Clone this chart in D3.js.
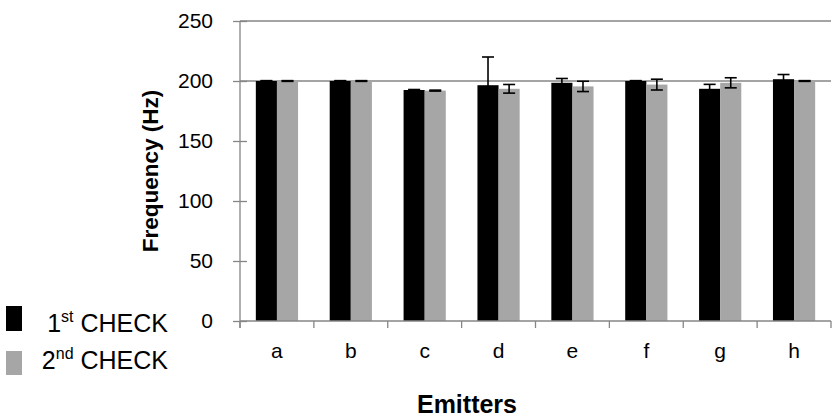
<!DOCTYPE html>
<html>
<head>
<meta charset="utf-8">
<script src="https://cdnjs.cloudflare.com/ajax/libs/d3/7.8.5/d3.min.js"></script>
<style>
  body { margin: 0; background: #fff; }
  text { font-family: "Liberation Sans", Arial, sans-serif; fill: #000; }
</style>
</head>
<body>
<div id="vis-container"></div>
<script>
// chart size
const width = 837;
const height = 419;
const margin = {left: 240, right: 6, top: 21, bottom: 98};

// data
const emitters = ["a", "b", "c", "d", "e", "f", "g", "h"];
const check1 = [200, 200, 192.5, 196.5, 198.5, 200, 193.5, 201.5];
const check2 = [200, 200, 192, 193.5, 195.5, 197, 198.5, 200];
const err1 = [0.3, 0.3, 0.4, 23.5, 3.6, 0.3, 3.7, 3.9];
const err2 = [0.3, 0.3, 0.4, 3.6, 4.3, 4.5, 4.2, 0.3];
const yTicks = [0, 50, 100, 150, 200, 250];
const gridLines = [200, 250];
const seriesKeys = ["first", "second"];
const colors = {first: "#000000", second: "#a6a6a6"};

const rows = emitters.map((e, i) => ({
  emitter: e,
  vals: [
    {key: "first", v: check1[i], err: err1[i]},
    {key: "second", v: check2[i], err: err2[i]}
  ]
}));

const svg = d3.select("#vis-container")
  .append("svg")
  .attr("width", width)
  .attr("height", height);

const axisColor = "#868686";

let x0 = d3.scaleBand()
  .domain(emitters)
  .range([margin.left, width - margin.right])
  .padding(0);

let x1 = d3.scaleBand()
  .domain(seriesKeys)
  .range([0, x0.bandwidth()])
  .paddingInner(0)
  .paddingOuter(0.75);

let y = d3.scaleLinear()
  .domain([0, 250])
  .range([height - margin.bottom, margin.top]);

// horizontal lines at 200 and 250
svg.append("g")
  .selectAll("line")
  .data(gridLines)
  .join("line")
  .attr("x1", margin.left)
  .attr("x2", width - margin.right)
  .attr("y1", d => y(d))
  .attr("y2", d => y(d))
  .attr("stroke", axisColor)
  .attr("stroke-width", 1.3);

// bars
const groups = svg.append("g")
  .selectAll("g")
  .data(rows)
  .join("g")
  .attr("transform", d => `translate(${x0(d.emitter)},0)`);

groups.selectAll("rect")
  .data(d => d.vals)
  .join("rect")
  .attr("x", d => x1(d.key))
  .attr("y", d => y(d.v))
  .attr("width", x1.bandwidth())
  .attr("height", d => y(0) - y(d.v))
  .attr("fill", d => colors[d.key]);

// error bars
const capW = 12;
const eb = groups.selectAll("g.err")
  .data(d => d.vals)
  .join("g")
  .attr("class", "err")
  .attr("stroke", "#000")
  .attr("stroke-width", 1.6);

eb.append("line")
  .attr("x1", d => x1(d.key) + x1.bandwidth() / 2)
  .attr("x2", d => x1(d.key) + x1.bandwidth() / 2)
  .attr("y1", d => y(d.v + d.err))
  .attr("y2", d => y(d.v - d.err));
eb.append("line")
  .attr("x1", d => x1(d.key) + x1.bandwidth() / 2 - capW / 2)
  .attr("x2", d => x1(d.key) + x1.bandwidth() / 2 + capW / 2)
  .attr("y1", d => y(d.v + d.err))
  .attr("y2", d => y(d.v + d.err));
eb.append("line")
  .attr("x1", d => x1(d.key) + x1.bandwidth() / 2 - capW / 2)
  .attr("x2", d => x1(d.key) + x1.bandwidth() / 2 + capW / 2)
  .attr("y1", d => y(d.v - d.err))
  .attr("y2", d => y(d.v - d.err));

// y axis with cross ticks
const yAxis = svg.append("g")
  .attr("transform", `translate(${margin.left},0)`)
  .call(d3.axisLeft(y).tickValues(yTicks).tickSize(0).tickPadding(27));
yAxis.select(".domain").remove();
yAxis.append("line")
  .attr("x1", 0).attr("x2", 0)
  .attr("y1", y(250)).attr("y2", y(0) + 7)
  .attr("stroke", axisColor).attr("stroke-width", 1.3);
yAxis.selectAll(".tick").append("line")
  .attr("x1", -7).attr("x2", 7)
  .attr("stroke", axisColor).attr("stroke-width", 1.3);
yAxis.selectAll("text")
  .attr("font-size", "21px")
  .attr("font-family", "Liberation Sans, Arial, sans-serif")
  .attr("fill", "#000");

// x axis with boundary ticks
const xAxis = svg.append("g")
  .attr("transform", `translate(0,${y(0)})`)
  .call(d3.axisBottom(x0).tickSize(0).tickPadding(22));
xAxis.select(".domain").remove();
xAxis.append("line")
  .attr("x1", margin.left).attr("x2", width - margin.right)
  .attr("stroke", axisColor).attr("stroke-width", 1.3);
xAxis.append("g")
  .selectAll("line")
  .data(emitters.concat(["end"]))
  .join("line")
  .attr("x1", (d, i) => margin.left + i * x0.step())
  .attr("x2", (d, i) => margin.left + i * x0.step())
  .attr("y1", 0).attr("y2", 7)
  .attr("stroke", axisColor).attr("stroke-width", 1.3);
xAxis.selectAll("text")
  .attr("font-size", "21px")
  .attr("font-family", "Liberation Sans, Arial, sans-serif")
  .attr("fill", "#000");

// axis titles
svg.append("text")
  .attr("x", 467)
  .attr("y", 413)
  .attr("text-anchor", "middle")
  .attr("font-size", "25px")
  .attr("font-weight", "bold")
  .text("Emitters");

svg.append("text")
  .attr("transform", "translate(158,171) rotate(-90)")
  .attr("text-anchor", "middle")
  .attr("font-size", "22.5px")
  .attr("font-weight", "bold")
  .text("Frequency (Hz)");

// legend
const legendData = [
  {key: "first", num: "1", sup: "st", y: 306, h: 25, tx: 168, base: 332},
  {key: "second", num: "2", sup: "nd", y: 351, h: 24, tx: 168, base: 369}
];
const legend = svg.append("g");
legend.selectAll("rect")
  .data(legendData)
  .join("rect")
  .attr("x", 6)
  .attr("y", d => d.y)
  .attr("width", 16)
  .attr("height", d => d.h)
  .attr("fill", d => colors[d.key]);

const lt = legend.selectAll("text")
  .data(legendData)
  .join("text")
  .attr("x", d => d.tx)
  .attr("y", d => d.base)
  .attr("text-anchor", "end")
  .attr("font-size", "25px");
lt.append("tspan").text(d => d.num);
lt.append("tspan")
  .attr("font-size", "16px")
  .attr("dy", -10)
  .text(d => d.sup);
lt.append("tspan")
  .attr("dy", 10)
  .text(" CHECK");
</script>
</body>
</html>
